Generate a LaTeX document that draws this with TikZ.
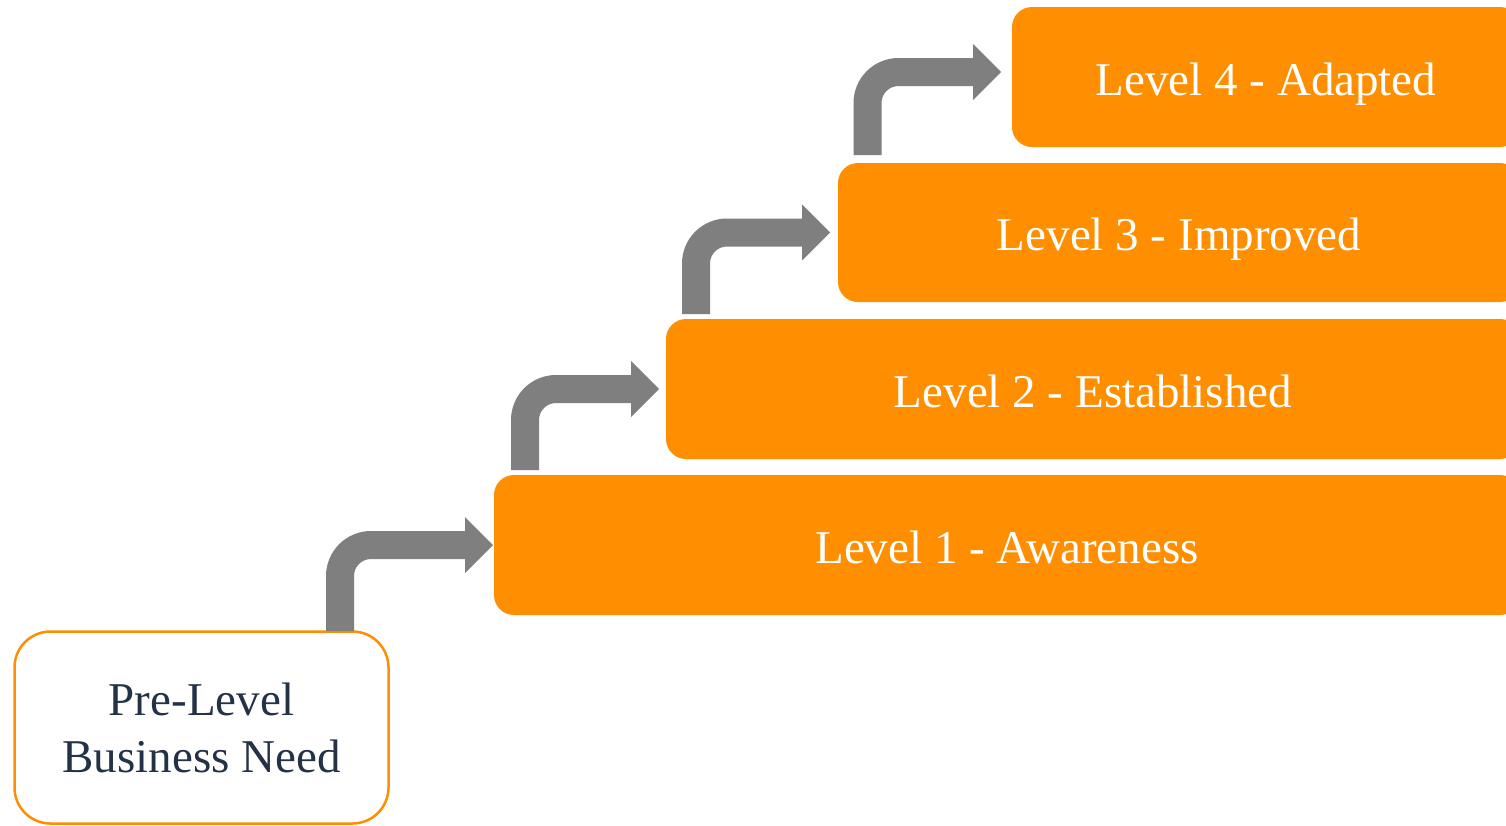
\documentclass[tikz,border=0pt]{standalone}
\usepackage{fontspec}
\setmainfont{Liberation Serif}
\usetikzlibrary{calc}
\definecolor{lvlorange}{HTML}{FF8F00}
\definecolor{arrgray}{HTML}{7F7F7F}
\definecolor{navytext}{HTML}{243247}
\newcommand\steparrowpath[2]{%
  \fill[stepconn] let \p1=(#1), \p2=(#2) in
   (\x1-14pt,\y1) -- (\x1-14pt,\y2-31pt) arc[start angle=180,end angle=90,radius=45pt]
   -- (\x2-28pt,\y2+14pt) -- (\x2-28pt,\y2+28pt) -- (\x2,\y2) -- (\x2-28pt,\y2-28pt) -- (\x2-28pt,\y2-14pt)
   -- (\x1+31pt,\y2-14pt) arc[start angle=90,end angle=180,radius=17pt] -- (\x1+14pt,\y1) -- cycle;}
\begin{document}
\begin{tikzpicture}[x=1pt,y=1pt,
  lvlbox/.style={fill=lvlorange, rounded corners=20pt, inner sep=0pt, outer sep=0pt,
    minimum height=140pt, text=white, font=\fontsize{47}{57}\selectfont,
    text height=36pt, text depth=0pt},
  prebox/.style={draw=lvlorange, line width=2.5pt, fill=white, rounded corners=36pt,
    minimum width=374pt, minimum height=192pt, inner sep=0pt, outer sep=0pt,
    text=navytext, align=center, font=\fontsize{47}{57}\selectfont},
  stepconn/.style={fill=arrgray, draw=none}]
\useasboundingbox (0,0) rectangle (1506,-825);
\clip (0,0) rectangle (1506,-825);
\fill[white] (0,0) rectangle (1506,-825);

\node[prebox] (pre) at (201.5,-727.5) {Pre-Level\\Business Need};
\node[lvlbox, minimum width=1026pt] (l1) at (1007,-545) {Level 1 - Awareness};
\node[lvlbox, minimum width=854pt] (l2) at (1093,-389) {Level 2 - Established};
\node[lvlbox, minimum width=682pt, minimum height=139pt] (l3) at (1179,-232.5) {Level 3 - Improved};
\node[lvlbox, minimum width=508pt] (l4) at (1266,-77) {Level 4 - Adapted};

\coordinate (a1s) at (340,-631);
\coordinate (a2s) at (525,-470);
\coordinate (a3s) at (696,-314);
\coordinate (a4s) at (867.5,-155);
\coordinate (a1t) at ([xshift=-1pt]l1.west);
\coordinate (a2t) at ([xshift=-7pt]l2.west);
\coordinate (a3t) at ([xshift=-8pt]l3.west);
\coordinate (a4t) at ([xshift=-11pt,yshift=5pt]l4.west);

\steparrowpath{a1s}{a1t}
\steparrowpath{a2s}{a2t}
\steparrowpath{a3s}{a3t}
\steparrowpath{a4s}{a4t}
\end{tikzpicture}
\end{document}
